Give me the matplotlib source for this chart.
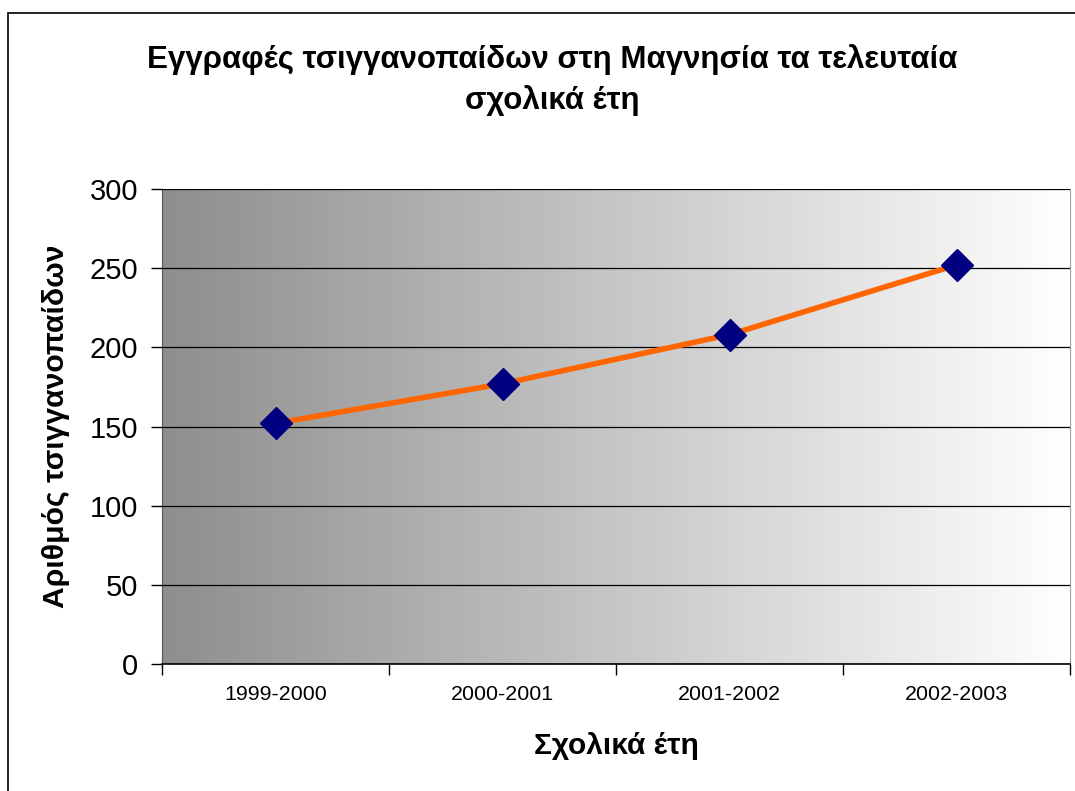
import numpy as np
import matplotlib
matplotlib.use("Agg")
import matplotlib.pyplot as plt
from matplotlib.patches import Rectangle

plt.rcParams['font.family'] = ['Liberation Sans', 'DejaVu Sans']

years = ["1999-2000", "2000-2001", "2001-2002", "2002-2003"]
enrolments = [152, 177, 208, 252]

title = "Εγγραφές τσιγγανοπαίδων στη Μαγνησία τα τελευταία\nσχολικά έτη"
xlabel = "Σχολικά έτη"
ylabel = "Αριθμός τσιγγανοπαίδων"

fig = plt.figure(figsize=(10.75, 7.91), dpi=100)
ax = fig.add_axes([162 / 1075, 1 - 664 / 791, (1070 - 162) / 1075, (664 - 189) / 791])

# grey-to-white horizontal gradient in the plot area
grad = np.linspace(0, 1, 256).reshape(1, -1)
ax.imshow(grad, cmap=matplotlib.colors.LinearSegmentedColormap.from_list("g", ["#8e8e8e", "#ffffff"]),
          extent=[0, 1, 0, 1], transform=ax.transAxes, aspect='auto', zorder=0)

x = np.arange(len(years))
ax.set_xlim(-0.5, len(years) - 0.5)
ax.set_ylim(0, 300)
ax.set_yticks(range(0, 301, 50))
ax.yaxis.grid(True, color='black', linewidth=0.9, zorder=1)
ax.set_axisbelow(False)

ax.plot(x, enrolments, color='#ff6600', linewidth=4, zorder=3)
ax.plot(x, enrolments, linestyle='none', marker='D', markersize=16,
        color='#000080', zorder=4)

ax.set_xticks(np.arange(-0.5, len(years), 1))
ax.set_xticklabels([])
ax.set_xticks(x, minor=True)
ax.set_xticklabels(years, minor=True, fontsize=15.4)
ax.tick_params(axis='x', which='major', length=8, width=1, direction='out')
ax.tick_params(axis='x', which='minor', length=0, pad=15)
ax.tick_params(axis='y', length=8, width=1, labelsize=21, pad=9)

ax.spines['top'].set_visible(False)
ax.spines['right'].set_color('#a0a0a0')
ax.spines['left'].set_color('#555555')
ax.spines['bottom'].set_linewidth(1.2)

ax.set_xlabel(xlabel, fontsize=21.5, fontweight='bold', labelpad=20)
ax.set_ylabel(ylabel, fontsize=21.7, fontweight='bold', labelpad=14)
fig.text(552 / 1075, 1 - 80 / 791, title, ha='center', va='center',
         fontsize=22.5, fontweight='bold', linespacing=1.45)

# outer chart border
fig.patches.append(Rectangle((8 / 1075, -0.01), 1.1, 1 - 13 / 791 + 0.01, transform=fig.transFigure,
                             fill=False, edgecolor='black', linewidth=1.2))

fig.savefig("out.png", dpi=100)
